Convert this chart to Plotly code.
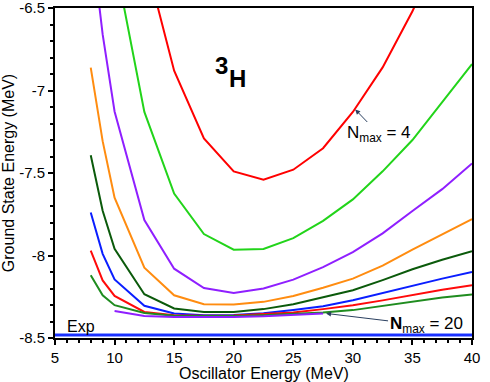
import plotly.graph_objects as go

# Oscillator energy grid (MeV)
hw = [8, 9, 10, 12.5, 15, 17.5, 20, 22.5, 25, 27.5, 30, 32.5, 35, 37.5, 40]

# Ground state energies of 3H (MeV), one list per Nmax
e_n4 = [-6.18, -6.88, -7.29, -7.49, -7.54, -7.48, -7.35, -7.13, -6.86, -6.52, -6.12]
e_n6 = [-6.20, -7.13, -7.625, -7.87, -7.965, -7.96, -7.895, -7.79, -7.66, -7.49, -7.30, -7.07, -6.84]
e_n8 = [-6.05, -6.66, -7.127, -7.785, -8.08, -8.197, -8.227, -8.20, -8.146, -8.07, -7.98, -7.866, -7.73, -7.598, -7.442]
e_n10 = [-6.861, -7.307, -7.65, -8.074, -8.241, -8.295, -8.297, -8.281, -8.245, -8.195, -8.14, -8.061, -7.965, -7.871, -7.779]
e_n12 = [-7.392, -7.729, -7.96, -8.235, -8.321, -8.342, -8.343, -8.325, -8.295, -8.255, -8.211, -8.149, -8.083, -8.026, -7.974]
e_n14 = [-7.739, -7.99, -8.145, -8.305, -8.351, -8.362, -8.36, -8.35, -8.33, -8.308, -8.271, -8.227, -8.182, -8.14, -8.10]
e_n16 = [-7.97, -8.151, -8.245, -8.342, -8.362, -8.365, -8.363, -8.355, -8.345, -8.325, -8.301, -8.272, -8.24, -8.208, -8.181]
e_n18 = [-8.12, -8.241, -8.301, -8.348, -8.365, -8.368, -8.367, -8.362, -8.355, -8.345, -8.331, -8.307, -8.28, -8.255, -8.237]
e_n20 = [-8.336, -8.366, -8.372, -8.373, -8.372, -8.368, -8.362, -8.352]

E_EXP = -8.482
X_RANGE = [5, 40]

y_ticks = [-8.5, -8.0, -7.5, -7.0, -6.5]
y_labels = ["-8.5", "-8", "-7.5", "-7", "-6.5"]

series = [
    (hw[3:14], e_n4, "#ff0000"),
    (hw[2:], e_n6, "#22d41a"),
    (hw, e_n8, "#8f1fff"),
    (hw, e_n10, "#ff8c10"),
    (hw, e_n12, "#0b5a0b"),
    (hw, e_n14, "#0a1eff"),
    (hw, e_n16, "#ff0a0a"),
    (hw, e_n18, "#1f8c1f"),
    (hw[2:10], e_n20, "#8f1fff"),
]

fig = go.Figure()

# experimental value: blue line with a light halo
fig.add_trace(go.Scatter(x=X_RANGE, y=[E_EXP, E_EXP], mode="lines",
                         line=dict(color="#8c9cff", width=4), hoverinfo="skip"))
fig.add_trace(go.Scatter(x=X_RANGE, y=[E_EXP, E_EXP], mode="lines",
                         line=dict(color="#1a30ff", width=2)))

for xs, ys, col in series:
    fig.add_trace(go.Scatter(x=xs, y=ys, mode="lines",
                             line=dict(color=col, width=2)))

fig.update_layout(
    width=490, height=382,
    margin={"l": 55, "r": 18, "t": 8, "b": 44},
    paper_bgcolor="white", plot_bgcolor="white",
    showlegend=False,
    font=dict(family="Liberation Sans, Arial, sans-serif", color="black", size=15),
)

fig.update_xaxes(
    range=X_RANGE, tick0=5, dtick=5, automargin=False,
    ticks="outside", ticklen=5, tickwidth=1.5, tickcolor="black",
    showline=True, linewidth=2, linecolor="black", mirror=True,
    showgrid=False, zeroline=False,
    tickfont=dict(size=15), ticklabeloverflow="allow",
    minor=dict(tick0=5, dtick=1, ticks="outside", ticklen=3, tickcolor="black", showgrid=False),
)
fig.update_yaxes(
    range=[-8.5, -6.5], tickmode="array", tickvals=y_ticks, ticktext=y_labels,
    automargin=False,
    ticks="outside", ticklen=5, tickwidth=1.5, tickcolor="black",
    showline=True, linewidth=2, linecolor="black", mirror=True,
    showgrid=False, zeroline=False,
    tickfont=dict(size=15), ticklabeloverflow="allow",
    minor=dict(tick0=-8.5, dtick=0.1, ticks="outside", ticklen=3, tickcolor="black", showgrid=False),
    title=dict(text="Ground State Energy (MeV)", font=dict(size=16), standoff=2),
)

# x axis title, placed a bit closer to the tick labels than plotly's default
fig.add_annotation(x=0.5, y=-0.108, xref="paper", yref="paper",
                   text="Oscillator Energy (MeV)", showarrow=False,
                   yanchor="middle", font=dict(size=16))

# labels
fig.add_annotation(x=18.94, y=-6.849, text="<b>3</b>", showarrow=False,
                   font=dict(size=24))
fig.add_annotation(x=20.28, y=-6.928, text="<b>H</b>", showarrow=False,
                   font=dict(size=24))
fig.add_annotation(x=7.22, y=-8.428, text="Exp", showarrow=False,
                   font=dict(size=16))
fig.add_annotation(x=30.2, y=-7.115, text="N<sub>max</sub> = 4",
                   showarrow=True, arrowhead=2, arrowsize=1, arrowwidth=1,
                   ax=24, ay=25, font=dict(size=17))
fig.add_annotation(x=27.75, y=-8.351, text="<b>N</b><sub>max</sub> = 20",
                   showarrow=True, arrowhead=2, arrowsize=1, arrowwidth=1,
                   ax=100, ay=12, font=dict(size=17))

# the page body has an 8px default margin; drop it so the figure sits at 0,0
fig.write_html("out.html", config={"displayModeBar": False},
               post_script="document.body.style.margin='0';")
